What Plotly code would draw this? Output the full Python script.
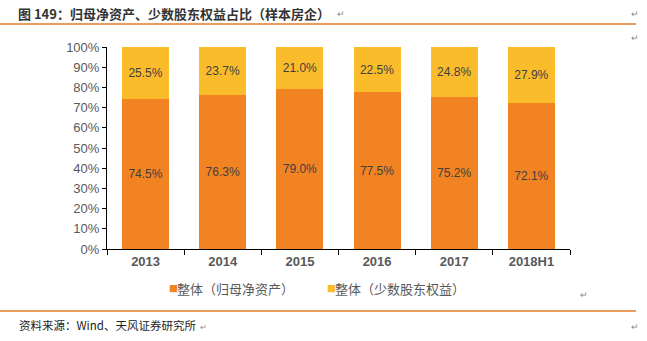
import plotly.graph_objects as go

categories = ["2013", "2014", "2015", "2016", "2017", "2018H1"]
parent_share = [74.5, 76.3, 79.0, 77.5, 75.2, 72.1]
minority_share = [25.5, 23.7, 21.0, 22.5, 24.8, 27.9]
series_names = ["整体（归母净资产）", "整体（少数股东权益）"]
y_ticks = [0, 10, 20, 30, 40, 50, 60, 70, 80, 90, 100]
colors = ["#F28322", "#FBBC2C"]

FONT = "Noto Sans CJK SC, Arial, sans-serif"
fig = go.Figure()
for vals, name, col in zip([parent_share, minority_share], series_names, colors):
    fig.add_trace(go.Bar(x=categories, y=vals, name=name,
                         marker=dict(color=col, line=dict(width=0)),
                         text=[f"{v:.1f}%" for v in vals], textposition="inside",
                         insidetextanchor="middle",
                         textfont=dict(color="#404040", size=12, family="Arial")))

fig.update_layout(
    barmode="stack", bargap=0.39,
    width=647, height=341,
    margin=dict(l=107, r=77, t=47, b=92),
    paper_bgcolor="white", plot_bgcolor="white",
    font=dict(family=FONT, color="#595959"),
    uniformtext=dict(mode="show", minsize=12),
    showlegend=False,
    xaxis=dict(showline=True, linecolor="#000000", linewidth=1,
               ticks="outside", tickson="boundaries", ticklen=5, tickcolor="#000000",
               tickvals=categories, ticktext=[f"<b>{c}</b>" for c in categories],
               tickfont=dict(size=13, color="#595959", family="Arial"),
               fixedrange=True),
    yaxis=dict(range=[0, 100], tickvals=y_ticks, ticktext=[f"{v}%" for v in y_ticks],
               showline=True, linecolor="#000000", linewidth=1,
               ticks="outside", ticklen=4, tickcolor="#000000",
               showgrid=False, zeroline=False,
               tickfont=dict(size=13, color="#595959", family="Arial")),
)

shapes = [
    dict(type="line", xref="paper", yref="paper", x0=-107/463, x1=(636-107)/463,
         y0=1 + (47-24)/202, y1=1 + (47-24)/202, line=dict(color="#E07B27", width=1.5)),
    dict(type="line", xref="paper", yref="paper", x0=-107/463, x1=(636-107)/463,
         y0=-(311-249)/202, y1=-(311-249)/202, line=dict(color="#E07B27", width=1.5)),
]
fig.update_layout(shapes=shapes)

def px_ann(text, x, y, size=12, color="#000000", anchor="left", bold=False, family=FONT):
    fig.add_annotation(text=f"<b>{text}</b>" if bold else text,
                       xref="paper", yref="paper",
                       x=(x-107)/463, y=(249-y)/202, xanchor=anchor, yanchor="middle",
                       showarrow=False, font=dict(size=size, color=color, family=family))

# legend drawn as text
px_ann("■", 167, 288, size=9, color=colors[0])
px_ann(series_names[0], 175, 288, size=13, color="#595959")
px_ann("■", 325, 288, size=9, color=colors[1])
px_ann(series_names[1], 333, 288, size=13, color="#595959")

px_ann("图 149：归母净资产、少数股东权益占比（样本房企）", 16, 13, size=13, color="#333333", bold=True)
px_ann("↵", 335, 13, size=9, color="#888888")
px_ann("↵", 629, 13, size=9, color="#888888")
px_ann("↵", 629, 38, size=9, color="#888888")
px_ann("↵", 578, 294, size=9, color="#888888")
px_ann("资料来源：Wind、天风证券研究所", 17, 325, size=11.5, color="#222222")
px_ann("↵", 198, 326, size=8, color="#888888")
px_ann("↵", 629, 326, size=9, color="#888888")

fig.write_html("out.html")
